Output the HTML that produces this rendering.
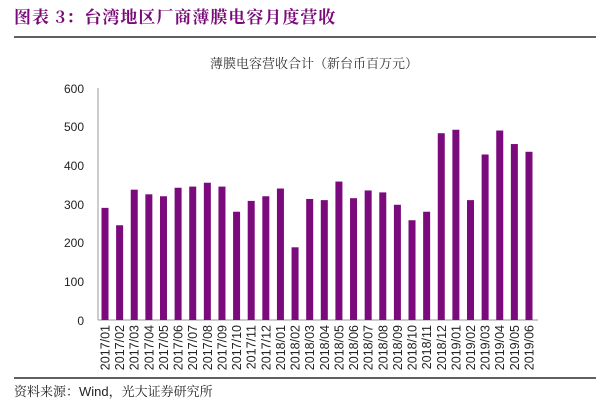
<!DOCTYPE html><html><head><meta charset="utf-8"><style>body{margin:0;background:#fff;width:608px;height:408px;overflow:hidden}</style></head><body>
<svg width="608" height="408" xmlns="http://www.w3.org/2000/svg" font-family="Liberation Sans, Noto Sans CJK SC, sans-serif">
<text x="14" y="23" font-size="17" font-weight="bold" letter-spacing="1" fill="#7a0a78" font-family="Noto Serif CJK SC, Noto Sans CJK SC, serif">图表 3：台湾地区厂商薄膜电容月度营收</text>
<line x1="14" y1="37" x2="596" y2="37" stroke="#000" stroke-width="1.2"/>
<text x="314" y="68" font-size="13" text-anchor="middle" fill="#333" font-family="Noto Serif CJK SC, serif">薄膜电容营收合计（新台币百万元）</text>
<g font-size="12" fill="#222" text-anchor="end">
<text x="84" y="93">600</text><text x="84" y="131">500</text><text x="84" y="170">400</text><text x="84" y="209">300</text><text x="84" y="247">200</text><text x="84" y="286">100</text><text x="84" y="325">0</text></g>
<line x1="98" y1="88" x2="98" y2="320" stroke="#999"/>
<line x1="98" y1="320" x2="538" y2="320" stroke="#999"/>
<g id="b" fill="#7b0a7c"></g>
<g id="l" font-size="12.5" fill="#222"></g>
<line x1="14" y1="378" x2="596" y2="378" stroke="#000" stroke-width="1.2"/>
<text x="14" y="396" font-size="13" fill="#222" font-family="Noto Serif CJK SC, serif">资料来源：<tspan font-family="Liberation Sans, sans-serif">Wind</tspan>，光大证券研究所</text>
<script>
var v=[290,245,337,325,320,342,345,355,345,280,308,320,340,188,313,310,358,315,335,330,298,258,280,483,492,310,428,490,455,435];
var b=document.getElementById('b'),l=document.getElementById('l'),ns='http://www.w3.org/2000/svg';
for(var i=0;i<30;i++){var cx=105+i*14.62,h=v[i]*0.3867;
var r=document.createElementNS(ns,'rect');r.setAttribute('x',cx-3.5);r.setAttribute('y',320-h);r.setAttribute('width',7);r.setAttribute('height',h);b.appendChild(r);
var y=2017+Math.floor(i/12),m=i%12+1;var t=document.createElementNS(ns,'text');
t.setAttribute('transform','translate('+(cx+4.5)+',325) rotate(-90)');t.setAttribute('text-anchor','end');t.textContent=y+'/'+(m<10?'0':'')+m;l.appendChild(t);}
</script>
</svg></body></html>
